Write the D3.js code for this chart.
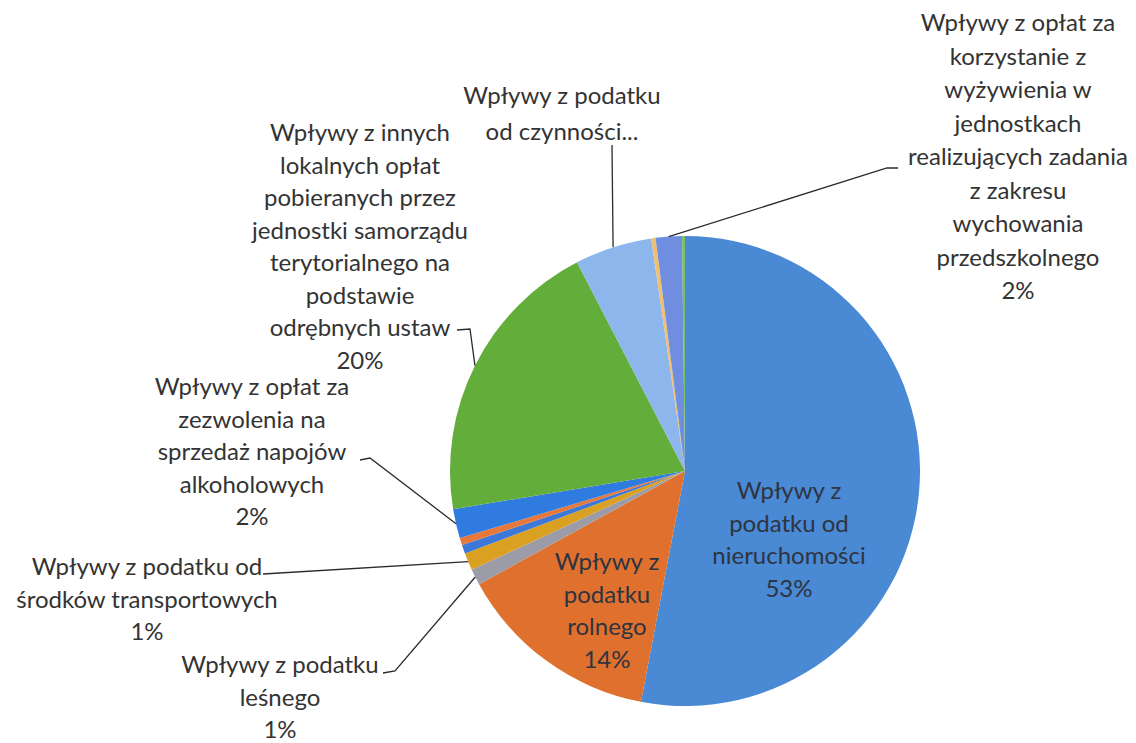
<!DOCTYPE html>
<html>
<head>
<meta charset="utf-8">
<script src="https://cdn.jsdelivr.net/npm/d3@7"></script>
<style>
  body { margin: 0; background: #fff; }
  text { font-family: Lato, "Open Sans", sans-serif; }
</style>
</head>
<body>
<div class="pie-chart"></div>
<script>
// slices, clockwise from 12 o'clock
const categories = [
    "Wpływy z podatku od nieruchomości",
    "Wpływy z podatku rolnego",
    "Wpływy z podatku leśnego",
    "Wpływy z podatku od środków transportowych",
    "",
    "",
    "Wpływy z opłat za zezwolenia na sprzedaż napojów alkoholowych",
    "Wpływy z innych lokalnych opłat pobieranych przez jednostki samorządu terytorialnego na podstawie odrębnych ustaw",
    "Wpływy z podatku od czynności...",
    "",
    "Wpływy z opłat za korzystanie z wyżywienia w jednostkach realizujących zadania z zakresu wychowania przedszkolnego",
    ""
];
const values = [53.0, 14.0, 1.1, 1.2, 0.6, 0.5, 2.0, 20.0, 5.3, 0.3, 1.8, 0.2];
const colors = ["#4a89d3", "#e0702e", "#9c9ca8", "#d9a021", "#3c78d8", "#e8783a",
                "#2f7be0", "#63ad3b", "#8db6ec", "#f0c070", "#6f8ee0", "#78c060"];

// wrapped label lines (as Excel broke them)
const labelLines = {
    0: ["Wpływy z", "podatku od", "nieruchomości"],
    1: ["Wpływy z", "podatku", "rolnego"],
    2: ["Wpływy z podatku", "leśnego"],
    3: ["Wpływy z podatku od", "środków transportowych"],
    6: ["Wpływy z opłat za", "zezwolenia na", "sprzedaż napojów", "alkoholowych"],
    7: ["Wpływy z innych", "lokalnych opłat", "pobieranych przez", "jednostki samorządu",
        "terytorialnego na", "podstawie", "odrębnych ustaw"],
    8: ["Wpływy z podatku", "od czynności..."],
    10: ["Wpływy z opłat za", "korzystanie z", "wyżywienia w", "jednostkach",
         "realizujących zadania", "z zakresu", "wychowania", "przedszkolnego"]
};

const width = 1136;
const height = 743;
const cx = 685, cy = 471, radius = 235;
const lineH = 32.5;

// label placement: text anchor point + leader elbow points
const layout = [
    {i: 0, x: 789, y: 499, inside: true},
    {i: 1, x: 607, y: 570, inside: true},
    {i: 2, x: 280, y: 673, leader: [[383, 673], [395, 671]]},
    {i: 3, x: 147, y: 575, leader: [[263, 574]]},
    {i: 6, x: 252, y: 395, leader: [[360, 460], [370, 458]]},
    {i: 7, x: 360, y: 141, leader: [[457, 330], [470, 329]]},
    {i: 8, x: 562, y: 104, dy: 36, noPct: true, leader: [[612, 145]]},
    {i: 10, x: 1018, y: 31, dy: 33.5, leader: [[898, 168], [887, 168]]}
];

const svg = d3.select('.pie-chart')
    .append('svg')
    .attr('width', width)
    .attr('height', height);

const total = d3.sum(values);
const pct = d3.format(".0%");

const pie = d3.pie().sort(null).value(function(d) { return d; });
const arcs = pie(values);

const arc = d3.arc().innerRadius(0).outerRadius(radius);
const edge = d3.arc().innerRadius(radius).outerRadius(radius);

const g = svg.append('g').attr('transform', `translate(${cx},${cy})`);

g.selectAll('.slice')
    .data(arcs)
    .enter()
    .append('path')
    .attr('class', 'slice')
    .attr('d', arc)
    .attr('fill', function(d, i) { return colors[i]; });

// leader lines
const line = d3.line();
svg.selectAll('.leader')
    .data(layout.filter(function(l) { return l.leader; }))
    .enter()
    .append('path')
    .attr('class', 'leader')
    .attr('d', function(l) {
        const p = edge.centroid(arcs[l.i]);
        return line(l.leader.concat([[p[0] + cx, p[1] + cy]]));
    })
    .attr('fill', 'none')
    .attr('stroke', '#2b2b2b')
    .attr('stroke-width', 1.3);

// labels
const labels = svg.selectAll('.label')
    .data(layout)
    .enter()
    .append('text')
    .attr('class', 'label')
    .attr('text-anchor', 'middle')
    .attr('font-size', 24)
    .attr('fill', function(l) { return l.inside ? '#2e3440' : '#333'; });

labels.each(function(l) {
    const t = d3.select(this);
    let lines = labelLines[l.i].slice();
    if (!l.noPct) lines.push(pct(values[l.i] / total));
    lines.forEach(function(s, k) {
        t.append('tspan')
            .attr('x', l.x)
            .attr('y', l.y + k * (l.dy || lineH))
            .text(s);
    });
});
</script>
</body>
</html>
